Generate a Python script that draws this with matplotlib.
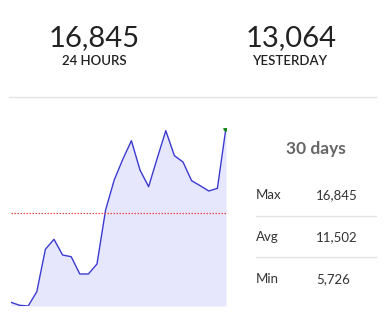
import matplotlib.pyplot as plt
from matplotlib.lines import Line2D

# valores diarios (30 days)
dias = list(range(26))
valores = [5957, 5770, 5726, 6618, 9262, 9885, 8906, 8800, 7722, 7722,
           8345, 11713, 13583, 14874, 16034, 14207, 13166, 14936, 16658, 15099,
           14706, 13540, 13228, 12897, 13064, 16845]

topo_valores = ["16,845", "13,064"]
topo_rotulos = ["24 HOURS", "YESTERDAY"]
stats_nomes = ["Max", "Avg", "Min"]
stats_valores = ["16,845", "11,502", "5,726"]
media = 11502

plt.rcParams['font.family'] = ['Lato', 'DejaVu Sans']

fig = plt.figure(figsize=(3.86, 3.23), dpi=100)
W, H = 386, 323

def fx(px):
    return px / W

def fy(py):
    return 1 - py / H

# numeros grandes no topo
for cx, v, r in zip([94, 291], topo_valores, topo_rotulos):
    fig.text(fx(cx), fy(38), v, ha="center", va="center", fontsize=21, color="#222222")
    fig.text(fx(cx), fy(61), r, ha="center", va="center", fontsize=9.5,
             color="#222222", fontweight="semibold")

# linha separadora
fig.add_artist(Line2D([fx(9), fx(376)], [fy(97.5), fy(97.5)], color="#e2e2e2", lw=1))

# grafico
ax = fig.add_axes([fx(11), fy(306), fx(226) - fx(11), (306 - 127.7) / H])
ax.fill_between(dias, valores, min(valores), color="#e6e6fc", lw=0)
ax.plot(dias, valores, color="#3a3ad0", lw=1)
ax.plot(dias[-1], valores[-1], "o", color="#1a8a1a", ms=3.6)
ax.axhline(media, color="#e84a4a", lw=0.9, ls=(0, (1.2, 1.2)))
ax.set_xlim(0, len(dias) - 1)
ax.set_ylim(min(valores), max(valores))
ax.axis("off")

# painel de estatisticas
fig.text(fx(316), fy(149), "30 days", ha="center", va="center", fontsize=12.5,
         color="#666666", fontweight="bold")
for i, (n, v) in enumerate(zip(stats_nomes, stats_valores)):
    y = 195 + i * 42
    fig.text(fx(256), fy(y), n, ha="left", va="center", fontsize=9.5, color="#333333")
    fig.text(fx(316), fy(y), v, ha="left", va="center", fontsize=9.5, color="#333333")
for y in [216, 257]:
    fig.add_artist(Line2D([fx(256), fx(376)], [fy(y), fy(y)], color="#e2e2e2", lw=1))

fig.savefig("out.png", dpi=100)
